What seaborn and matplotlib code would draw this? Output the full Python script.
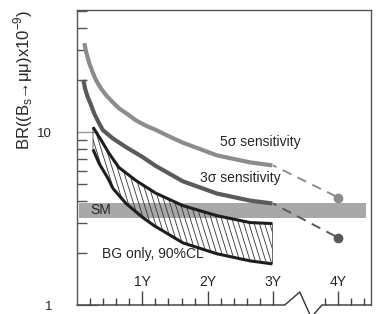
import numpy as np
import matplotlib
matplotlib.use("Agg")
import matplotlib.pyplot as plt
import seaborn as sns
from matplotlib.collections import LineCollection

# BR(Bs->mumu) x 1e-9 reachable vs. years of running
sig5_years = [0.112, 0.138, 0.188, 0.24, 0.291, 0.368, 0.444, 0.547, 0.648, 0.776,
              0.904, 1.057, 1.21, 1.4, 1.62, 2.14, 2.65, 2.99]
sig5_br = [32.8, 29.3, 25.1, 22.2, 20.0, 17.9, 16.4, 14.9, 13.7, 12.7,
           11.7, 10.9, 10.3, 9.5, 8.7, 7.35, 6.69, 6.43]

sig3_years = [0.097, 0.123, 0.164, 0.214, 0.265, 0.326, 0.394, 0.55, 0.75, 1.0,
              1.2, 1.62, 2.14, 2.65, 2.99]
sig3_br = [20.1, 17.9, 16.0, 14.4, 12.8, 11.5, 10.3, 9.2, 8.2, 7.2,
           6.4, 5.2, 4.42, 4.02, 3.87]

bg_up_years = [0.245, 0.37, 0.49, 0.64, 0.90, 1.2, 1.62, 2.14, 2.65, 2.99]
bg_up_br = [10.7, 9.0, 7.55, 6.26, 5.26, 4.45, 3.76, 3.29, 3.0, 2.96]
bg_lo_years = [0.245, 0.34, 0.475, 0.55, 0.75, 1.01, 1.18, 1.62, 2.14, 2.65, 2.99]
bg_lo_br = [7.96, 6.58, 5.4, 4.73, 3.87, 3.2, 2.88, 2.29, 1.98, 1.80, 1.73]

# extrapolation to the 4th year
ext_years = [3.0, 4.0]
sig5_ext = [6.43, 4.19]
sig3_ext = [3.87, 2.45]

sm_low, sm_high = 3.2, 3.87

year_ticks = [1, 2, 3, 4]
year_labels = ["1Y", "2Y", "3Y", "4Y"]
minor_years = [0.2, 0.4, 0.6, 0.8, 1.2, 1.4, 1.6, 1.8, 2.2, 2.4, 2.6, 2.8,
               3.8, 4.2, 4.4]

sns.set_style("white")
plt.rcParams["font.family"] = ["Liberation Sans", "DejaVu Sans"]

fig = plt.figure(figsize=(3.82, 3.14), dpi=100)
ax = fig.add_axes([77 / 382, 9 / 314, 294 / 382, 295 / 314])
ax.set_yscale("log")

c5, c3, cbg = "#8c8c8c", "#5a5a5a", "#1e1e1e"

# SM band
ax.axhspan(sm_low, sm_high, xmin=0.007, xmax=0.983, color="#a8a8a8", lw=0, zorder=1)

# BG-only region, hatched with steep thin lines
region = ax.fill(bg_up_years + bg_lo_years[::-1], bg_up_br + bg_lo_br[::-1],
                 facecolor="none", edgecolor="#333333", lw=0.5, zorder=2)[0]
starts = np.arange(-0.4, 1.0, 5.2 / 294)
segs = [[(s, 1), (s + 0.31, 0)] for s in starts]
hatch = LineCollection(segs, transform=ax.transAxes, colors="#333333", lw=0.6, zorder=2)
ax.add_collection(hatch, autolim=False)
hatch.set_clip_path(region)

kw = dict(ax=ax, sort=False, estimator=None, zorder=3, solid_joinstyle="round",
          solid_capstyle="butt")
sns.lineplot(x=sig5_years, y=sig5_br, color=c5, lw=3, **kw)
sns.lineplot(x=sig3_years, y=sig3_br, color=c3, lw=3, **kw)
sns.lineplot(x=bg_up_years, y=bg_up_br, color=cbg, lw=2.2, **kw)
sns.lineplot(x=bg_lo_years, y=bg_lo_br, color=cbg, lw=2.2, **kw)

ax.plot(ext_years, sig5_ext, color=c5, lw=1.4, ls=(3, (5, 3.5)), zorder=3)
ax.plot(ext_years, sig3_ext, color=c3, lw=1.4, ls=(3, (5, 3.5)), zorder=3)
ax.plot(ext_years[-1:], sig5_ext[-1:], "o", color=c5, ms=6, zorder=4)
ax.plot(ext_years[-1:], sig3_ext[-1:], "o", color=c3, ms=6, zorder=4)

# annotations
ax.text(2.19, 8.75, "5σ sensitivity", fontsize=10, va="center")
ax.text(1.88, 5.47, "3σ sensitivity", fontsize=10, va="center")
ax.text(0.20, 3.55, "SM", fontsize=10, va="center", zorder=5)
ax.text(0.38, 1.98, "BG only, 90%CL", fontsize=10, va="center")

ax.set_xlim(0, 4.5)
ax.set_ylim(1, 51)

# y axis
ax.set_yticks([1, 10], labels=["1", "10"])
ax.set_yticks([2, 3, 4, 5, 6, 7, 8, 9, 20, 30, 40, 50], minor=True)
ax.yaxis.set_minor_formatter(plt.NullFormatter())
ax.tick_params(axis="y", which="major", direction="in", length=15, width=1,
               color="#999999", pad=18, labelsize=9.5, left=True)
ax.tick_params(axis="y", which="minor", direction="in", length=7, width=1,
               color="#555555", left=True)

# x axis, with a break between 3Y and 4Y
ax.set_xticks(year_ticks, labels=[])
ax.set_xticks(minor_years, minor=True)
ax.tick_params(axis="x", which="major", direction="in", length=10, width=1,
               color="#444444", bottom=True)
ax.tick_params(axis="x", which="minor", direction="in", length=5, width=1,
               color="#444444", bottom=True)
for yr, lab in zip(year_ticks, year_labels):
    ax.text(yr, 0.078, lab, fontsize=10, ha="center", va="center",
            transform=ax.get_xaxis_transform())

xt = ax.get_xaxis_transform()
ax.plot([0, 3.18, 3.41, 3.57], [0, 0, 0.044, -0.035], color="#333333", lw=1,
        transform=xt, clip_on=False)
ax.plot([3.61, 3.75, 4.5], [-0.035, 0, 0], color="#333333", lw=1,
        transform=xt, clip_on=False)

for side in ["left", "top", "right"]:
    ax.spines[side].set_color("#555555")
    ax.spines[side].set_linewidth(1)
ax.spines["bottom"].set_visible(False)

fig.text(23 / 382, 1 - 10 / 314, r"BR((B$_\mathregular{s}$→μμ)x10$^\mathregular{-9}$)",
         rotation=90, ha="center", va="top", fontsize=12)

fig.savefig("out.png", dpi=100)
